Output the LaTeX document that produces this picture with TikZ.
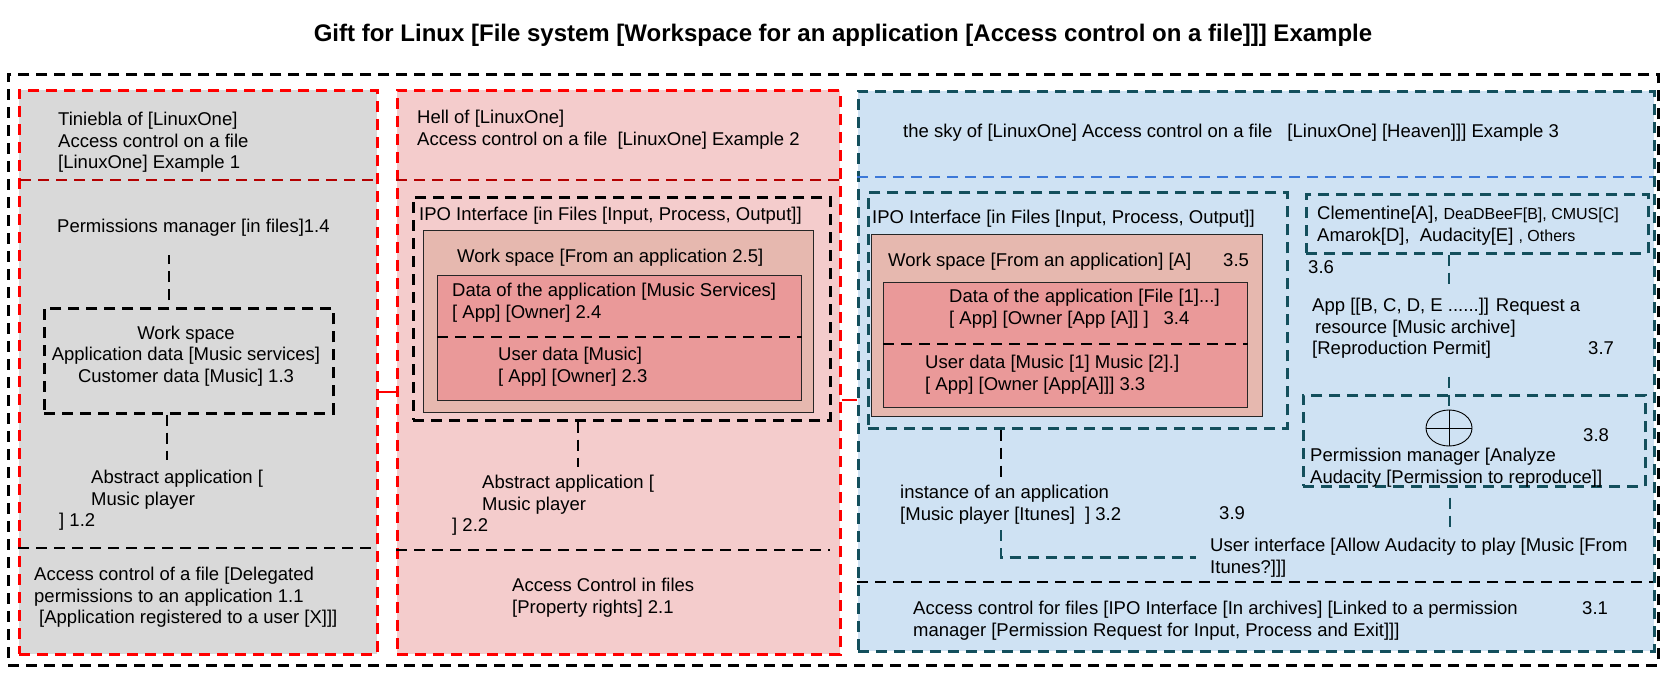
\documentclass[tikz,border=0pt]{standalone}
\usepackage{fontspec}
\setmainfont{Liberation Sans}
\usetikzlibrary{positioning, calc, shapes.geometric}
\definecolor{grayfill}{HTML}{D9D9D9}
\definecolor{pinkfill}{HTML}{F4CCCC}
\definecolor{bluefill}{HTML}{CFE2F3}
\definecolor{wsfill}{HTML}{E6B8AF}
\definecolor{datafill}{HTML}{EA9999}
\definecolor{redline}{HTML}{FF0000}
\definecolor{darkred}{HTML}{B40000}
\definecolor{tealline}{HTML}{134F5C}
\definecolor{blueline}{HTML}{3C78D8}
\tikzset{
dashline/.style={line width=2.6pt, dash pattern=on 11pt off 7pt}, % every dashed border and link
panel/.style={dashline, anchor=north west, inner sep=0pt}, % big boxes, placed by their corner
solidbox/.style={draw=black!85, line width=0.9pt, anchor=north west, inner sep=0pt}, % work space and data boxes
txt/.style={anchor=base west, align=left, inner sep=0pt, font=\fontsize{18.5}{21.6}\selectfont}, % all labels, placed by the baseline of their last line
title/.style={font=\fontsize{24}{28}\selectfont\bfseries, inner sep=0pt},
link/.style={dashline, draw=black}, % black connectors
tealink/.style={dashline, draw=tealline}, % teal connectors
redlink/.style={line width=2.4pt, draw=redline}, % links between the panels
}

\begin{document}
\begin{tikzpicture}[x=1pt, y=-1pt]
    \useasboundingbox (0,0) rectangle (1677,677);
    \node[title] (ttl) at (843,35) {Gift for Linux [File system [Workspace for an application [Access control on a file]]] Example};
    \node[panel, draw=black, minimum width=1650, minimum height=591] (frame) at (7,73) {};

    % Example 1
    \node[panel, draw=redline, fill=grayfill, minimum width=358, minimum height=564] (p1) at (18,89) {};
    \draw[dashline, draw=darkred] (20,180) -- (376,180);
    \draw[dashline, draw=black] (18,548) -- (376,548);
    \node[txt] (hd1) at (58,168.7) {Tiniebla of [LinuxOne]\\Access control on a file\\{}[LinuxOne] Example 1};
    \node[txt] (pm1) at (57,232.5) {Permissions manager [in files]1.4};
    \node[panel, draw=black, minimum width=289, minimum height=105] (ws1) at (43,307) {};
    \node[txt, anchor=base, align=center] (wst1) at (186,382.2) {Work space\\Application data [Music services]\\Customer data [Music] 1.3};
    \node[txt] (ab1) at (59,526.7) {\hspace*{32pt}Abstract application [\\\hspace*{32pt}Music player\\] 1.2};
    \node[txt] (ac1) at (34,623.7) {Access control of a file [Delegated\\permissions to an application 1.1\\\hspace*{5pt}[Application registered to a user [X]]]};
    \draw[link] ([yshift=7pt]ws1.north -| 169,0) -- ([yshift=-18pt]pm1.south -| 169,0);
    \draw[link] (ws1.south -| 167,0) -- ([yshift=10pt]ab1.north -| 167,0);

    % Example 2
    \node[panel, draw=redline, fill=pinkfill, minimum width=443, minimum height=564] (p2) at (396,89) {};
    \draw[dashline, draw=darkred] (396,180) -- (839,180);
    \draw[dashline, draw=black] (396,550) -- (830,550);
    \node[txt] (hd2) at (417,145.1) {Hell of [LinuxOne]\\Access control on a file\hspace{5pt} [LinuxOne] Example 2};
    \node[panel, draw=black, minimum width=417, minimum height=223] (ipo2) at (412,196) {};
    \node[txt] (ipot2) at (419,220.5) {IPO Interface [in Files [Input, Process, Output]]};
    \node[solidbox, fill=wsfill, minimum width=390, minimum height=182] (ws2) at (423,230) {};
    \node[txt] (wst2) at (457,262.5) {Work space [From an application 2.5]};
    \node[solidbox, fill=datafill, minimum width=364, minimum height=125] (dt2) at (437,275) {};
    \draw[dashline, draw=black] (dt2.west |- 0,337) -- (dt2.east |- 0,337);
    \node[txt] (ad2) at (452,318.1) {Data of the application [Music Services]\\{}[ App] [Owner] 2.4};
    \node[txt] (ud2) at (498,382.1) {User data [Music]\\{}[ App] [Owner] 2.3};
    \node[txt] (ab2) at (452,531.7) {\hspace*{30pt}Abstract application [\\\hspace*{30pt}Music player\\] 2.2};
    \node[txt] (ac2) at (512,613.1) {Access Control in files\\{}[Property rights] 2.1};
    \draw[link] (ipo2.south -| 578,0) -- ([yshift=8pt]ab2.north -| 578,0);

    % Example 3
    \node[panel, draw=tealline, fill=bluefill, minimum width=796, minimum height=560] (p3) at (857,90) {};
    \draw[dashline, draw=blueline] (857,177) -- (1653,177);
    \draw[dashline, draw=black] (857,582) -- (1653,582);
    \node[txt] (hd3) at (903,137.5) {the sky of [LinuxOne] Access control on a file\hspace{10pt} [LinuxOne] [Heaven]]] Example 3};
    \node[panel, draw=tealline, minimum width=419, minimum height=236] (ipo3) at (867,191) {};
    \node[txt] (ipot3) at (872,223.5) {IPO Interface [in Files [Input, Process, Output]]};
    \node[solidbox, fill=wsfill, minimum width=391, minimum height=182] (ws3) at (871,234) {};
    \node[txt] (wst3) at (888,266.5) {Work space [From an application] [A]};
    \node[txt] (n35) at (1223,266.5) {3.5};
    \node[solidbox, fill=datafill, minimum width=364, minimum height=125] (dt3) at (883,282) {};
    \draw[dashline, draw=black] (dt3.west |- 0,344) -- (dt3.east |- 0,344);
    \node[txt] (ad3) at (949,324.1) {Data of the application [File [1]...]\\{}[ App] [Owner [App [A]] ]\hspace{15pt}3.4};
    \node[txt] (ud3) at (925,390.1) {User data [Music [1] Music [2].]\\{}[ App] [Owner [App[A]]] 3.3};

    \node[panel, draw=tealline, minimum width=342, minimum height=59] (cl) at (1305,193) {};
    \node[txt] (clt) at (1317,241.1) {Clementine[A], {\fontsize{16}{21.6}\selectfont DeaDBeeF[B], CMUS[C]}\\Amarok[D],\hspace{5pt} Audacity[E] {\fontsize{16}{21.6}\selectfont, Others}};
    \node[txt] (n36) at (1308,273.5) {3.6};
    \node[txt] (rq) at (1312,354.7) {App [[B, C, D, E ......]] Request a\\\hspace*{3pt}resource [Music archive]\\{}[Reproduction Permit]};
    \node[txt] (n37) at (1588,354.5) {3.7};
    \node[panel, draw=tealline, minimum width=342, minimum height=91] (pmb) at (1302,394) {};
    \node[ellipse, draw=black, line width=0.9pt, minimum width=46, minimum height=36, inner sep=0pt] (perm) at (1449,428) {};
    \draw[line width=0.9pt] (perm.north) -- (perm.south) (perm.west) -- (perm.east);
    \node[txt] (n38) at (1583,441.5) {3.8};
    \node[txt] (pmt) at (1310,483.1) {Permission manager [Analyze\\Audacity [Permission to reproduce]]};
    \node[txt] (inst) at (900,520.1) {instance of an application\\{}[Music player [Itunes]\hspace{5pt} ] 3.2};
    \node[txt] (n39) at (1219,519.5) {3.9};
    \node[txt] (ui) at (1210,573.1) {User interface [Allow Audacity to play [Music [From\\Itunes?]]]};
    \node[txt] (ac3) at (913,636.1) {Access control for files [IPO Interface [In archives] [Linked to a permission\\manager [Permission Request for Input, Process and Exit]]]};
    \node[txt] (n31) at (1582,614.5) {3.1};

    \draw[tealink] (cl.south -| 1449,0) -- ([yshift=-12pt]n36.base -| 1449,0);
    \draw[tealink] ([yshift=-18pt]rq.south -| 1449,0) -- (perm.north);
    \draw[tealink] ([yshift=-10pt]pmb.south -| 1450,0) -- ([yshift=10pt]ui.north -| 1450,0);
    \draw[link] (ipo3.south -| 1001,0) -- ([yshift=6pt]inst.north -| 1001,0);
    \draw[tealink] ([yshift=-6pt]inst.south -| 1001,0) -- (ui.west -| 1001,0) -- ([xshift=-14pt]ui.west);

    % links between the panels
    \draw[redlink] (p1.east |- 0,392) -- (p2.west |- 0,392);
    \draw[redlink] (p2.east |- 0,400) -- (p3.west |- 0,400);
\end{tikzpicture}
\end{document}
